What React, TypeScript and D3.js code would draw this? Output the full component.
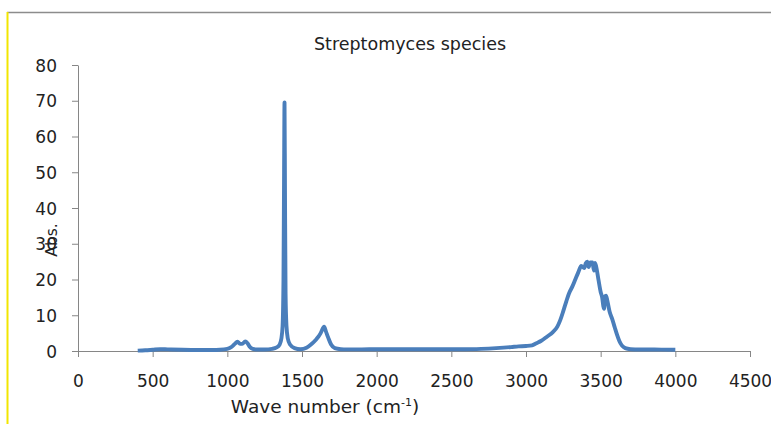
import { useRef, useEffect } from 'react'
import * as d3 from 'd3'

// Spectrum (wave number in cm-1, absorbance)
const waveNumbers = [
  400, 450, 500, 550, 600, 700, 800, 900, 950, 1000, 1030, 1050, 1068, 1085, 1100, 1120, 1135, 1150,
  1170, 1200, 1250, 1300, 1330, 1350, 1362, 1370, 1376, 1380, 1383, 1386, 1390, 1396, 1405, 1420,
  1450, 1490, 1530, 1560, 1590, 1610, 1625, 1648, 1660, 1675, 1695, 1720, 1760, 1800, 1900, 2000,
  2100, 2200, 2300, 2400, 2500, 2600, 2700, 2800, 2900, 2950, 3000, 3040, 3070, 3100, 3140, 3180,
  3210, 3230, 3250, 3270, 3290, 3310, 3330, 3350, 3370, 3390, 3400, 3410, 3420, 3430, 3445, 3455,
  3463, 3475, 3485, 3500, 3510, 3518, 3523, 3528, 3536, 3545, 3560, 3577, 3595, 3610, 3625, 3643,
  3665, 3700, 3760, 3850, 4000,
]
const absorbance = [
  0.1, 0.2, 0.35, 0.5, 0.45, 0.35, 0.3, 0.3, 0.35, 0.6, 1.2, 2.0, 2.6, 2.0, 2.0, 2.7, 2.2, 1.2,
  0.6, 0.4, 0.4, 0.6, 1.0, 1.8, 3.5, 7, 20, 50, 69.5, 45, 16, 7, 3.5, 1.8,
  0.8, 0.5, 0.9, 1.8, 3.0, 4.0, 5.0, 6.8, 5.5, 3.8, 1.8, 0.8, 0.5, 0.45, 0.45, 0.5,
  0.5, 0.5, 0.5, 0.5, 0.5, 0.5, 0.6, 0.8, 1.1, 1.3, 1.4, 1.6, 2.2, 2.8, 4.0, 5.3,
  6.8, 8.7, 11.2, 13.9, 16.3, 18.0, 20, 22, 23.8, 23.2, 24.5, 25, 23.5, 24.8, 24.8, 22.5,
  24.6, 22.5, 20, 16.5, 15, 12.5, 11.8, 15.2, 15.5, 14, 11, 9, 6.5, 4.5, 2.8, 1.5,
  0.8, 0.5, 0.4, 0.4, 0.35,
]

const xTicks = [0, 500, 1000, 1500, 2000, 2500, 3000, 3500, 4000, 4500]
const yTicks = [0, 10, 20, 30, 40, 50, 60, 70, 80]
const title = 'Streptomyces species'

const W = 771
const H = 424
const FONT = '"DejaVu Sans", sans-serif'

export default function App() {
  const svgRef = useRef<SVGSVGElement>(null)

  useEffect(() => {
    if (!svgRef.current) return
    const svg = d3.select(svgRef.current)
    svg.selectAll('*').remove()

    const x = d3.scaleLinear().domain([0, 4500]).range([78, 750])
    const y = d3.scaleLinear().domain([0, 80]).range([351, 65])
    const axisColor = '#868686'
    const fmt = d3.format('d')

    // Frame
    svg.append('rect').attr('width', W).attr('height', H).attr('fill', '#fff')
    svg
      .append('line')
      .attr('x1', 7).attr('x2', W).attr('y1', 12.5).attr('y2', 12.5)
      .attr('stroke', '#8c8c8c').attr('stroke-width', 1.5)
    svg
      .append('line')
      .attr('x1', 7.5).attr('x2', 7.5).attr('y1', 12).attr('y2', H)
      .attr('stroke', '#f2e600').attr('stroke-width', 2)

    // Y axis
    const yAxis = svg
      .append('g')
      .attr('transform', 'translate(78,0)')
      .call(
        d3.axisLeft(y).tickValues(yTicks).tickFormat((d) => fmt(d as number))
          .tickSize(6).tickPadding(15).tickSizeOuter(0)
      )
    yAxis.select('.domain').attr('stroke', axisColor)
    yAxis.selectAll('line').attr('stroke', axisColor)
    yAxis
      .selectAll('text')
      .attr('font-family', FONT)
      .attr('font-size', 17)
      .attr('fill', '#222')
      .attr('dy', '0.36em')

    // X axis
    const xAxis = svg
      .append('g')
      .attr('transform', 'translate(0,351)')
      .call(
        d3.axisBottom(x).tickValues(xTicks).tickFormat((d) => fmt(d as number))
          .tickSize(6).tickPadding(18).tickSizeOuter(0)
      )
    xAxis.select('.domain').attr('stroke', axisColor)
    xAxis.selectAll('line').attr('stroke', axisColor)
    xAxis
      .selectAll('text')
      .attr('font-family', FONT)
      .attr('font-size', 17)
      .attr('fill', '#222')

    // Spectrum line
    const points = waveNumbers.map((w, i) => [w, absorbance[i]] as [number, number])
    const line = d3
      .line<[number, number]>()
      .x((d) => x(d[0]))
      .y((d) => y(d[1]))
      .curve(d3.curveMonotoneX)
    svg
      .append('path')
      .datum(points)
      .attr('fill', 'none')
      .attr('stroke', '#4a7ebb')
      .attr('stroke-width', 3.9)
      .attr('stroke-linejoin', 'round')
      .attr('d', line)

    // Title
    svg
      .append('text')
      .attr('x', 410)
      .attr('y', 50)
      .attr('text-anchor', 'middle')
      .attr('font-family', FONT)
      .attr('font-size', 17.5)
      .attr('fill', '#222')
      .text(title)

    // X label with superscript
    const xl = svg
      .append('text')
      .attr('x', 325)
      .attr('y', 413)
      .attr('text-anchor', 'middle')
      .attr('font-family', FONT)
      .attr('font-size', 18.5)
      .attr('fill', '#222')
    xl.append('tspan').text('Wave number (cm')
    xl.append('tspan').attr('font-size', 11).attr('dy', -7).text('-1')
    xl.append('tspan').attr('dy', 7).text(')')

    // Y label
    svg
      .append('text')
      .attr('transform', 'translate(57,240) rotate(-90)')
      .attr('text-anchor', 'middle')
      .attr('font-family', FONT)
      .attr('font-size', 15.5)
      .attr('fill', '#222')
      .text('Abs.')
  }, [])

  return (
    <svg
      ref={svgRef}
      width={W}
      height={H}
      style={{ position: 'absolute', left: 0, top: 0 }}
    />
  )
}
